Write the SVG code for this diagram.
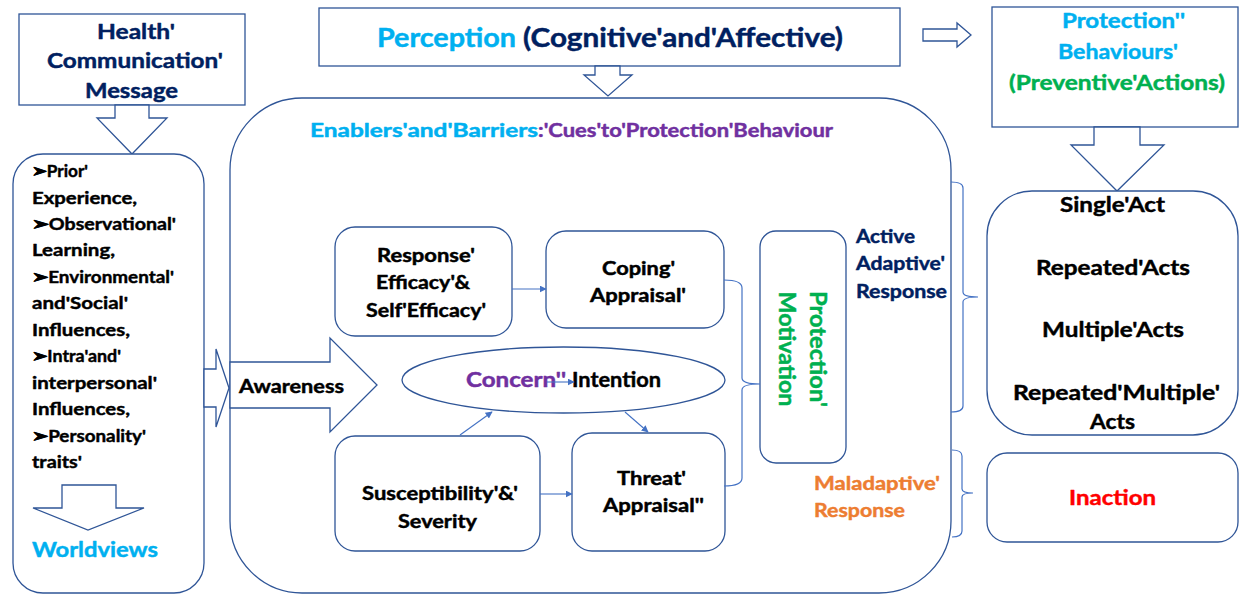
<svg xmlns="http://www.w3.org/2000/svg" width="1243" height="595" viewBox="0 0 1243 595">
  <style>
    .t { font-family: Lato, "Open Sans", "Liberation Sans", sans-serif; font-weight: 700; stroke-width: 0.45; stroke-linejoin: round; }
    .s17 { font-size: 17.5px; }
    .s18 { font-size: 18px; }
    .s19 { font-size: 19px; }
    .s20 { font-size: 20px; }
    .s21 { font-size: 21px; }
    .s22 { font-size: 22px; }
    .s27 { font-size: 27px; }
    .navy { fill: #002060; stroke: #002060; }
    .cyan { fill: #00B0F0; stroke: #00B0F0; }
    .purple { fill: #7030A0; stroke: #7030A0; }
    .green { fill: #00B050; stroke: #00B050; }
    .orange { fill: #ED7D31; stroke: #ED7D31; }
    .red { fill: #FF0000; stroke: #FF0000; }
    .blk { fill: #000000; stroke: #000000; }
    .box { fill: #FFFFFF; stroke: #2F5597; stroke-width: 1.3; }
    .conn { fill: none; stroke: #4472C4; stroke-width: 1.1; }
    .brace { fill: none; stroke: #4472C4; stroke-width: 1.2; }
  </style>
  <defs>
    <marker id="arr" viewBox="0 0 10 10" refX="9" refY="5" markerWidth="7" markerHeight="7" markerUnits="userSpaceOnUse" orient="auto">
      <path d="M0,0 L10,5 L0,10 z" fill="#4472C4"/>
    </marker>
  </defs>

  <rect width="1243" height="595" fill="#FFFFFF"/>

  <!-- Health communication message -->
  <g id="health-message">
    <rect class="box" x="19" y="14" width="226" height="91"/>
    <polygon class="box" points="115,105 149,105 149,118 167,118 132,154 97,118 115,118"/>
    <text class="t s21 navy" x="97" y="39" textLength="78" lengthAdjust="spacingAndGlyphs">Health'</text>
    <text class="t s21 navy" x="47" y="68" textLength="176" lengthAdjust="spacingAndGlyphs">Communication'</text>
    <text class="t s21 navy" x="85" y="98" textLength="93" lengthAdjust="spacingAndGlyphs">Message</text>
  </g>

  <!-- Perception -->
  <g id="perception">
    <rect class="box" x="319" y="8" width="581" height="58"/>
    <polygon class="box" points="595,66 620,66 620,75 632,75 608,96 584,75 595,75"/>
    <text class="t s27 cyan" x="377" y="47" textLength="139" lengthAdjust="spacingAndGlyphs">Perception</text>
    <text class="t s27 navy" x="523" y="47" textLength="320" lengthAdjust="spacingAndGlyphs">(Cognitive'and'Affective)</text>
  </g>

  <!-- Arrow from perception to protection behaviours -->
  <g id="perception-arrow">
    <polygon class="box" points="923,29 957,29 957,23 971,35 957,47 957,41 923,41"/>
  </g>

  <!-- Protection behaviours -->
  <g id="protection-behaviours">
    <rect class="box" x="992" y="7" width="246" height="120"/>
    <polygon class="box" points="1094,127 1140,127 1140,145 1164,145 1117,191 1071,145 1094,145"/>
    <text class="t s21 cyan" x="1062" y="28" textLength="123" lengthAdjust="spacingAndGlyphs">Protection''</text>
    <text class="t s21 cyan" x="1058" y="59" textLength="120" lengthAdjust="spacingAndGlyphs">Behaviours'</text>
    <text class="t s21 green" x="1009" y="90" textLength="216" lengthAdjust="spacingAndGlyphs">(Preventive'Actions)</text>
  </g>

  <!-- Prior influences and worldviews -->
  <g id="influences">
    <rect class="box" x="13" y="154" width="191" height="439" rx="30" ry="30"/>
    <text class="t s17 blk" x="32" y="177" textLength="56" lengthAdjust="spacingAndGlyphs">➢Prior'</text>
    <text class="t s17 blk" x="32" y="203.5" textLength="105" lengthAdjust="spacingAndGlyphs">Experience,</text>
    <text class="t s17 blk" x="32" y="230" textLength="144" lengthAdjust="spacingAndGlyphs">➢Observational'</text>
    <text class="t s17 blk" x="32" y="256.4" textLength="83" lengthAdjust="spacingAndGlyphs">Learning,</text>
    <text class="t s17 blk" x="32" y="282.8" textLength="142" lengthAdjust="spacingAndGlyphs">➢Environmental'</text>
    <text class="t s17 blk" x="32" y="309.3" textLength="96" lengthAdjust="spacingAndGlyphs">and'Social'</text>
    <text class="t s17 blk" x="32" y="335.7" textLength="98" lengthAdjust="spacingAndGlyphs">Influences,</text>
    <text class="t s17 blk" x="32" y="362.1" textLength="89" lengthAdjust="spacingAndGlyphs">➢Intra'and'</text>
    <text class="t s17 blk" x="32" y="388.6" textLength="125" lengthAdjust="spacingAndGlyphs">interpersonal'</text>
    <text class="t s17 blk" x="32" y="415" textLength="98" lengthAdjust="spacingAndGlyphs">Influences,</text>
    <text class="t s17 blk" x="32" y="441.5" textLength="114" lengthAdjust="spacingAndGlyphs">➢Personality'</text>
    <text class="t s17 blk" x="32" y="468" textLength="50" lengthAdjust="spacingAndGlyphs">traits'</text>
    <polygon class="box" points="62,485 116,485 116,508 144,508 88,530 33,508 62,508"/>
    <text class="t s21 cyan" x="32" y="557" textLength="126" lengthAdjust="spacingAndGlyphs">Worldviews</text>
  </g>

  <!-- Enablers and barriers frame -->
  <g id="enablers-barriers">
    <rect class="box" x="230" y="98" width="721" height="495" rx="72" ry="72"/>
    <text class="t s18 cyan" x="310" y="137" textLength="228" lengthAdjust="spacingAndGlyphs">Enablers'and'Barriers</text>
    <text class="t s18 purple" x="538" y="137" textLength="295" lengthAdjust="spacingAndGlyphs">:'Cues'to'Protection'Behaviour</text>
  </g>

  <!-- Arrow into the frame -->
  <g id="entry-arrow">
    <polygon class="box" points="204,369 216,369 216,349 229,388 216,427 216,407 204,407"/>
  </g>

  <!-- Awareness -->
  <g id="awareness">
    <polygon class="box" points="230,362 330,362 330,338 377,385 330,432 330,408 230,408"/>
    <text class="t s18 blk" x="239" y="393" textLength="105" lengthAdjust="spacingAndGlyphs">Awareness</text>
  </g>

  <!-- Response efficacy -->
  <g id="response-efficacy">
    <rect class="box" x="335" y="227" width="177" height="109" rx="20" ry="20"/>
    <text class="t s18 blk" x="377" y="262" textLength="98" lengthAdjust="spacingAndGlyphs">Response'</text>
    <text class="t s18 blk" x="376" y="289" textLength="94" lengthAdjust="spacingAndGlyphs">Efficacy'&amp;</text>
    <text class="t s18 blk" x="366" y="317" textLength="120" lengthAdjust="spacingAndGlyphs">Self'Efficacy'</text>
  </g>

  <!-- Coping appraisal -->
  <g id="coping-appraisal">
    <rect class="box" x="546" y="231" width="178" height="97" rx="20" ry="20"/>
    <text class="t s18 blk" x="602" y="275" textLength="73" lengthAdjust="spacingAndGlyphs">Coping'</text>
    <text class="t s18 blk" x="590" y="302" textLength="96" lengthAdjust="spacingAndGlyphs">Appraisal'</text>
  </g>

  <!-- Concern / intention -->
  <g id="concern-intention">
    <ellipse class="box" cx="563.5" cy="380" rx="161.5" ry="33"/>
    <text class="t s20 purple" x="466" y="387" textLength="100" lengthAdjust="spacingAndGlyphs">Concern''</text>
    <text class="t s20 blk" x="572" y="387" textLength="89" lengthAdjust="spacingAndGlyphs">Intention</text>
  </g>

  <!-- Susceptibility and severity -->
  <g id="susceptibility-severity">
    <rect class="box" x="335" y="436" width="205" height="115" rx="20" ry="20"/>
    <text class="t s18 blk" x="362" y="500" textLength="156" lengthAdjust="spacingAndGlyphs">Susceptibility'&amp;'</text>
    <text class="t s18 blk" x="398" y="528" textLength="79" lengthAdjust="spacingAndGlyphs">Severity</text>
  </g>

  <!-- Threat appraisal -->
  <g id="threat-appraisal">
    <rect class="box" x="572" y="433" width="153" height="118" rx="20" ry="20"/>
    <text class="t s18 blk" x="617" y="485" textLength="69" lengthAdjust="spacingAndGlyphs">Threat'</text>
    <text class="t s18 blk" x="603" y="512" textLength="101" lengthAdjust="spacingAndGlyphs">Appraisal''</text>
  </g>

  <!-- Protection motivation -->
  <g id="protection-motivation">
    <rect class="box" x="760" y="231" width="86" height="232" rx="16" ry="16"/>
    <g transform="rotate(90 803 349)">
      <text class="t s22 green" x="745" y="342" textLength="116" lengthAdjust="spacingAndGlyphs">Protection'</text>
      <text class="t s22 green" x="745.5" y="373" textLength="115" lengthAdjust="spacingAndGlyphs">Motivation</text>
    </g>
  </g>

  <!-- Response labels -->
  <g id="adaptive-label">
    <text class="t s19 navy" x="856" y="243" textLength="59" lengthAdjust="spacingAndGlyphs">Active</text>
    <text class="t s19 navy" x="856" y="270" textLength="89" lengthAdjust="spacingAndGlyphs">Adaptive'</text>
    <text class="t s19 navy" x="856" y="298" textLength="91" lengthAdjust="spacingAndGlyphs">Response</text>
  </g>
  <g id="maladaptive-label">
    <text class="t s19 orange" x="814" y="490" textLength="126" lengthAdjust="spacingAndGlyphs">Maladaptive'</text>
    <text class="t s19 orange" x="814" y="517" textLength="91" lengthAdjust="spacingAndGlyphs">Response</text>
  </g>

  <!-- Acts -->
  <g id="acts">
    <rect class="box" x="987" y="191" width="251" height="244" rx="45" ry="45"/>
    <text class="t s21 blk" x="1060" y="212" textLength="105" lengthAdjust="spacingAndGlyphs">Single'Act</text>
    <text class="t s21 blk" x="1036" y="275" textLength="154" lengthAdjust="spacingAndGlyphs">Repeated'Acts</text>
    <text class="t s21 blk" x="1042" y="337" textLength="142" lengthAdjust="spacingAndGlyphs">Multiple'Acts</text>
    <text class="t s21 blk" x="1013" y="400" textLength="207" lengthAdjust="spacingAndGlyphs">Repeated'Multiple'</text>
    <text class="t s21 blk" x="1090" y="429" textLength="45" lengthAdjust="spacingAndGlyphs">Acts</text>
  </g>

  <!-- Inaction -->
  <g id="inaction">
    <rect class="box" x="987" y="453" width="251" height="89" rx="20" ry="20"/>
    <text class="t s21 red" x="1069" y="505" textLength="87" lengthAdjust="spacingAndGlyphs">Inaction</text>
  </g>

  <!-- Connectors -->
  <g id="connectors">
    <line class="conn" x1="512" y1="289" x2="546" y2="289" marker-end="url(#arr)"/>
    <line class="conn" x1="540" y1="494" x2="572" y2="494" marker-end="url(#arr)"/>
    <line class="conn" x1="460" y1="435" x2="492" y2="412" marker-end="url(#arr)"/>
    <line class="conn" x1="625" y1="412" x2="648" y2="432" marker-end="url(#arr)"/>
    <line class="conn" x1="547" y1="382" x2="574" y2="382" marker-end="url(#arr)"/>
    <path class="brace" d="M724,280 Q742,280 742,288 L742,378 Q742,384 760,384 Q742,384 742,390 L742,478 Q742,486 724,486"/>
    <path class="brace" d="M951,182 Q963,182 963,188 L963,292 Q963,297 978,297 Q963,297 963,302 L963,406 Q963,412 951,412"/>
    <path class="brace" d="M952,450 Q962,450 962,456 L962,489 Q962,493 973,493 Q962,493 962,497 L962,531 Q962,537 952,537"/>
  </g>
</svg>
